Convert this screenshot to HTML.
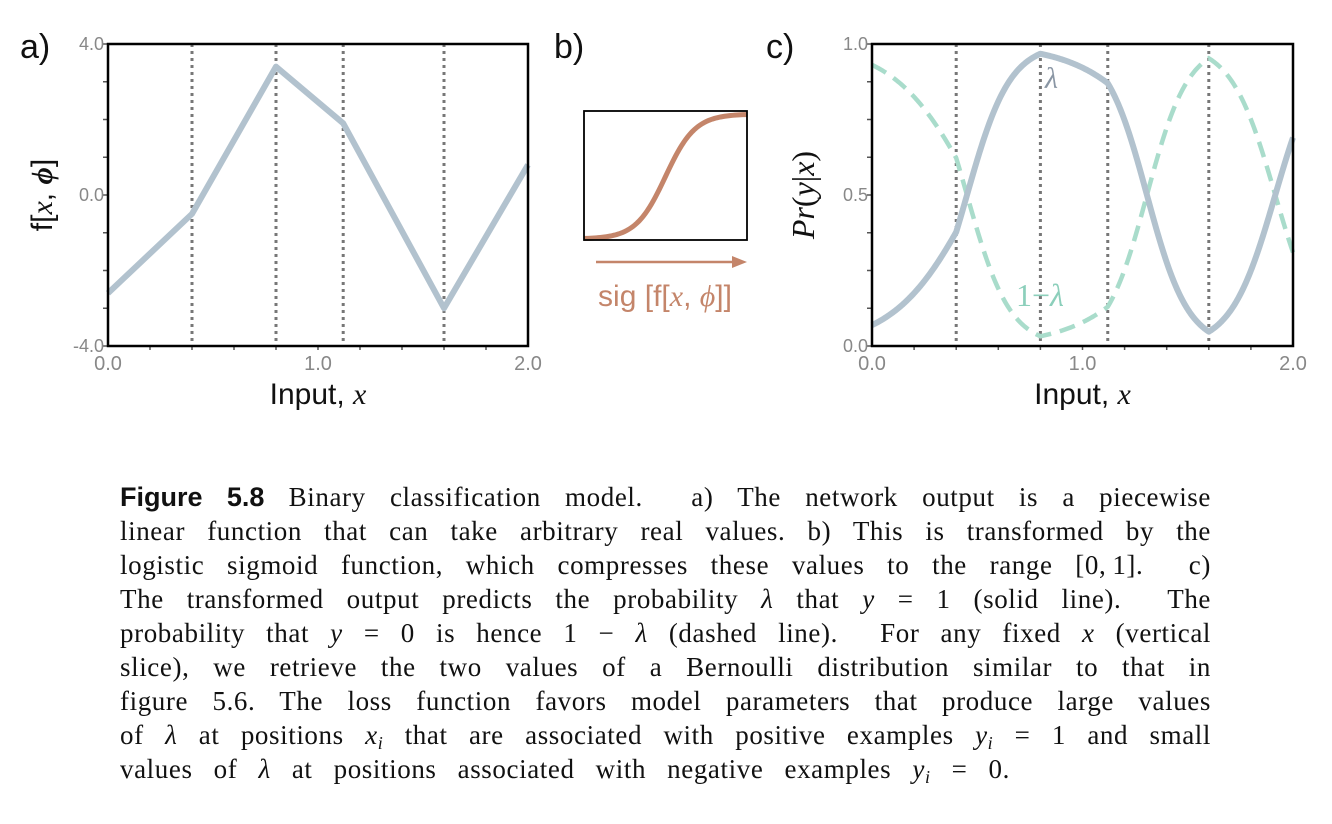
<!DOCTYPE html>
<html><head><meta charset="utf-8">
<style>
html,body{margin:0;padding:0;background:#fff;}
body{width:1332px;height:824px;position:relative;overflow:hidden;}
.cap{position:absolute;left:120px;top:480px;width:1091px;font-family:"Liberation Serif",serif;font-size:27px;line-height:34px;color:#111;letter-spacing:0.6px;}
.cap div{text-align:justify;text-align-last:justify;height:34px;white-space:normal;}
.cap b{font-family:"Liberation Sans",sans-serif;letter-spacing:0;}
.cap i{font-style:italic;}
.sb{font-size:18px;position:relative;top:5px;font-style:italic;}
</style></head><body>
<svg id="s" width="1332" height="470" style="position:absolute;left:0;top:0" font-family="Liberation Sans, sans-serif">
</svg>
<div class="cap">
<div><b>Figure 5.8</b> Binary classification model. &nbsp;a) The network output is a piecewise</div>
<div>linear function that can take arbitrary real values. b) This is transformed by the</div>
<div>logistic sigmoid function, which compresses these values to the range [0,&thinsp;1]. &nbsp;c)</div>
<div>The transformed output predicts the probability <i>λ</i> that <i>y</i> = 1 (solid line). &nbsp;The</div>
<div>probability that <i>y</i> = 0 is hence 1 − <i>λ</i> (dashed line). &nbsp;For any fixed <i>x</i> (vertical</div>
<div>slice), we retrieve the two values of a Bernoulli distribution similar to that in</div>
<div>figure 5.6. The loss function favors model parameters that produce large values</div>
<div>of <i>λ</i> at positions <i>x</i><span class="sb">i</span> that are associated with positive examples <i>y</i><span class="sb">i</span> = 1 and small</div>
<div style="width:890px">values of <i>λ</i> at positions associated with negative examples <i>y</i><span class="sb">i</span> = 0.</div>
</div>
<script>
const s=document.getElementById('s');let h='';
const kx=[0,0.4,0.8,1.12,1.6,2.0],ky=[-2.6,-0.5,3.4,1.9,-3.0,0.8];
function f(x){for(let i=0;i<5;i++){if(x<=kx[i+1]){const t=(x-kx[i])/(kx[i+1]-kx[i]);return ky[i]+t*(ky[i+1]-ky[i]);}}return ky[5];}
function sg(v){return 1/(1+Math.exp(-v));}
function axes(L,R,T,B,yl){
 let o='';
 [0.4,0.8,1.12,1.6].forEach(x=>{const X=L+x/2*(R-L);o+=`<line x1="${X}" y1="${T}" x2="${X}" y2="${B}" stroke="#777" stroke-width="3" stroke-dasharray="3,4"/>`;});
 for(let i=1;i<10;i++){const X=L+i*(R-L)/10;o+=`<line x1="${X}" y1="${B}" x2="${X}" y2="${B+4}" stroke="#555" stroke-width="1.5"/>`;}
 for(let i=0;i<=8;i++){const Y=T+i*(B-T)/8;o+=`<line x1="${L-5}" y1="${Y}" x2="${L}" y2="${Y}" stroke="#555" stroke-width="1.5"/>`;}
 o+=`<text x="${L-4}" y="${T+6}" font-size="18" fill="#888" text-anchor="end">${yl[0]}</text>`;
 o+=`<text x="${L-4}" y="${(T+B)/2+6}" font-size="18" fill="#888" text-anchor="end">${yl[1]}</text>`;
 o+=`<text x="${L-4}" y="${B+6}" font-size="18" fill="#888" text-anchor="end">${yl[2]}</text>`;
 o+=`<text x="${L}" y="${B+24}" font-size="20" fill="#888" text-anchor="middle">0.0</text>`;
 o+=`<text x="${(L+R)/2}" y="${B+24}" font-size="20" fill="#888" text-anchor="middle">1.0</text>`;
 o+=`<text x="${R}" y="${B+24}" font-size="20" fill="#888" text-anchor="middle">2.0</text>`;
 o+=`<text x="${(L+R)/2}" y="${B+58}" font-size="30" fill="#111" text-anchor="middle">Input, <tspan font-family="Liberation Serif, serif" font-style="italic">x</tspan></text>`;
 return o;
}
{const L=108,R=528,T=44,B=346;h+=axes(L,R,T,B,['4.0','0.0','-4.0']);
 let p=kx.map((x,i)=>`${L+x/2*(R-L)},${(T+B)/2-ky[i]*(B-T)/8}`).join(' ');
 h+=`<polyline points="${p}" fill="none" stroke="#b2c2ce" stroke-width="6" stroke-linejoin="round"/>`;
 h+=`<rect x="${L}" y="${T}" width="${R-L}" height="${B-T}" fill="none" stroke="#000" stroke-width="2.5"/>`;
 h+=`<text x="20" y="58" font-size="34" fill="#111">a)</text>`;
 h+=`<text transform="translate(52,195) rotate(-90)" font-size="30" fill="#111" text-anchor="middle">f[<tspan font-family="Liberation Serif, serif" font-style="italic">x</tspan>, <tspan font-family="Liberation Serif, serif" font-style="italic" font-weight="bold">ϕ</tspan>]</text>`;}
{const L=584,R=747,T=111,B=240;let p=[];for(let i=0;i<=80;i++){const t=i/80;p.push(`${L+t*(R-L)},${B-sg((t-0.5)*11)*(B-T-4)-1}`);}
 h+=`<polyline points="${p.join(' ')}" fill="none" stroke="#c4856a" stroke-width="5"/>`;
 h+=`<rect x="${L}" y="${T}" width="${R-L}" height="${B-T}" fill="none" stroke="#000" stroke-width="1.8"/>`;
 h+=`<line x1="596" y1="262" x2="735" y2="262" stroke="#c4856a" stroke-width="2.5"/><polygon points="747,262 732,256 732,268" fill="#c4856a"/>`;
 h+=`<text x="665" y="306" font-size="30" fill="#c4856a" text-anchor="middle">sig [f[<tspan font-family="Liberation Serif, serif" font-style="italic">x</tspan>, <tspan font-family="Liberation Serif, serif" font-style="italic">ϕ</tspan>]]</text>`;
 h+=`<text x="554" y="58" font-size="34" fill="#111">b)</text>`;}
{const L=872,R=1293,T=44,B=346;h+=axes(L,R,T,B,['1.0','0.5','0.0']);
 let p=[],q=[];for(let i=0;i<=400;i++){const x=i/200;const v=sg(f(x));const X=L+x/2*(R-L);p.push(`${X},${B-v*(B-T)}`);q.push(`${X},${B-(1-v)*(B-T)}`);}
 h+=`<polyline points="${q.join(' ')}" fill="none" stroke="#a9dccb" stroke-width="4.5" stroke-dasharray="16,9"/>`;
 h+=`<polyline points="${p.join(' ')}" fill="none" stroke="#b2c2ce" stroke-width="6" stroke-linejoin="round"/>`;
 h+=`<rect x="${L}" y="${T}" width="${R-L}" height="${B-T}" fill="none" stroke="#000" stroke-width="2.5"/>`;
 h+=`<text x="1045" y="88" font-size="30" fill="#8a96a4" font-family="Liberation Serif, serif" font-style="italic">λ</text>`;
 h+=`<text x="1016" y="306" font-size="32" fill="#8ccfbb" font-family="Liberation Serif, serif">1−<tspan font-style="italic">λ</tspan></text>`;
 h+=`<text x="766" y="58" font-size="34" fill="#111">c)</text>`;
 h+=`<text transform="translate(814,195) rotate(-90)" font-size="32" fill="#111" text-anchor="middle" font-family="Liberation Serif, serif"><tspan font-style="italic">Pr</tspan>(<tspan font-style="italic">y</tspan>|<tspan font-style="italic">x</tspan>)</text>`;}
s.innerHTML=h;
</script>
</body></html>
